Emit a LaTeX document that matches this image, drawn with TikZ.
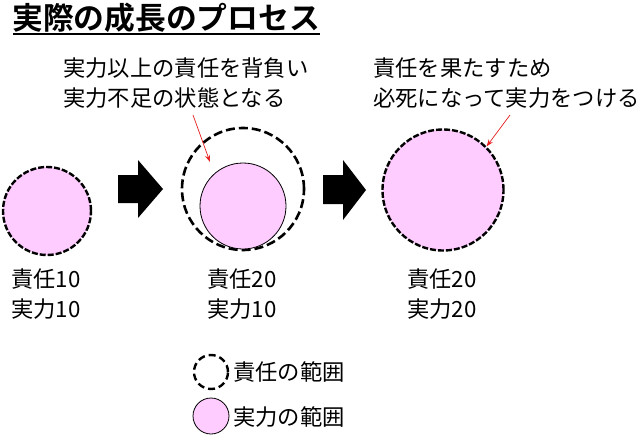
\documentclass[tikz,border=0pt]{standalone}
\usepackage{fontspec}
\newfontfamily\cjk{Noto Sans CJK JP}
\newfontfamily\cjkb{Noto Sans CJK JP Bold}
\usetikzlibrary{arrows.meta}
\definecolor{pinkfill}{RGB}{255,204,255}
\definecolor{redarrow}{RGB}{230,30,30}
\tikzset{
  lbl/.style={anchor=west,inner sep=0pt,align=left,font=\cjk\fontsize{22.3}{29.5}\selectfont},
  resp/.style={circle,draw=black,line width=2.6pt,dash pattern=on 9pt off 4pt,inner sep=0pt},
  respdense/.style={circle,draw=black,line width=2.4pt,dash pattern=on 6pt off 2pt,inner sep=0pt,fill=pinkfill},
  abil/.style={circle,draw=black,line width=0.8pt,fill=pinkfill,inner sep=0pt},
  blockarrow/.style={fill=black,draw=none},
  callout/.style={draw=redarrow,line width=0.7pt,-{Stealth[length=7pt,width=5pt]}}
}
\begin{document}
\begin{tikzpicture}[x=1pt,y=-1pt]
\useasboundingbox[fill=white] (0,0) rectangle (643,439);
% title
\node[anchor=west,inner sep=0pt,font=\cjkb\fontsize{30.8}{32}\selectfont] (title) at (12,18) {実際の成長のプロセス};
\draw[line width=2pt] (13,34) -- (320,34);
% stage 1
\node[respdense,minimum size=88pt] (c1) at (47,211) {};
\draw[blockarrow] (118,175) -- (138,175) -- (138,160) -- (163,189) -- (138,218) -- (138,203) -- (118,203) -- cycle;
% stage 2
\node[resp,minimum size=122pt] (c2o) at (243,189) {};
\node[abil,minimum size=86pt] (c2i) at (243,206) {};
\draw[blockarrow] (323,175) -- (343,175) -- (343,160) -- (366,190) -- (343,220) -- (343,204) -- (323,204) -- cycle;
% stage 3
\node[respdense,minimum size=121pt] (c3) at (443,190) {};
% callouts
\node[lbl] (t1) at (63,83) {実力以上の責任を背負い\\実力不足の状態となる};
\coordinate (a1s) at (193,115);
\coordinate (a1e) at (210,162);
\draw[callout] (a1s) -- (a1e);
\node[lbl] (t2) at (373,83) {責任を果たすため\\必死になって実力をつける};
\coordinate (a2s) at (510,115);
\draw[callout] (a2s) -- (c3.north east);
% values
\node[lbl] (v1) at (11,294) {責任10\\実力10};
\node[lbl] (v2) at (207,294) {責任20\\実力10};
\node[lbl] (v3) at (407,294) {責任20\\実力20};
% legend
\node[circle,draw=black,line width=2.4pt,dash pattern=on 7pt off 4pt,minimum size=34pt,inner sep=0pt] (lg1) at (211,372) {};
\node[lbl] (lt1) at (233,372) {責任の範囲};
\node[abil,minimum size=36pt] (lg2) at (211,416) {};
\node[lbl] (lt2) at (233,417) {実力の範囲};
\end{tikzpicture}
\end{document}
